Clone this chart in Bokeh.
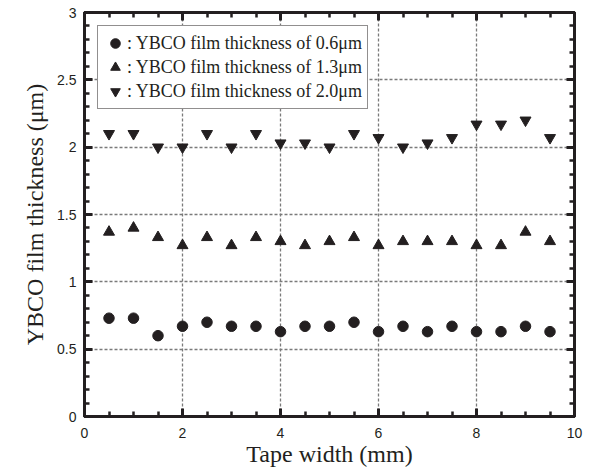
from bokeh.plotting import figure
from bokeh.models import (Range1d, LinearAxis, SingleIntervalTicker, Legend, LegendItem,
                          CustomJSTickFormatter)
from bokeh.embed import file_html
from bokeh.resources import INLINE

# Positions across the tape (mm)
tape_width = [0.5, 1.0, 1.5, 2.0, 2.5, 3.0, 3.5, 4.0, 4.5, 5.0,
              5.5, 6.0, 6.5, 7.0, 7.5, 8.0, 8.5, 9.0, 9.5]

# Measured YBCO film thickness (um) for the three nominal thicknesses
thick_06 = [0.73, 0.73, 0.60, 0.67, 0.70, 0.67, 0.67, 0.63, 0.67, 0.67,
            0.70, 0.63, 0.67, 0.63, 0.67, 0.63, 0.63, 0.67, 0.63]
thick_13 = [1.37, 1.40, 1.33, 1.27, 1.33, 1.27, 1.33, 1.30, 1.27, 1.30,
            1.33, 1.27, 1.30, 1.30, 1.30, 1.27, 1.27, 1.37, 1.30]
thick_20 = [2.10, 2.10, 2.00, 2.00, 2.10, 2.00, 2.10, 2.03, 2.03, 2.00,
            2.10, 2.07, 2.00, 2.03, 2.07, 2.17, 2.17, 2.20, 2.07]

legend_labels = [": YBCO film thickness of 0.6\u03bcm",
                 ": YBCO film thickness of 1.3\u03bcm",
                 ": YBCO film thickness of 2.0\u03bcm"]

INK = "#231f20"
SERIF = "Liberation Serif"
SANS = "Liberation Sans"

p = figure(width=589, height=472, output_backend="svg", toolbar_location=None,
           x_range=Range1d(0, 10), y_range=Range1d(0, 3),
           x_axis_location=None, y_axis_location=None,
           min_border_left=84, min_border_right=15,
           min_border_top=12, min_border_bottom=56)
p.background_fill_color = "white"
p.border_fill_color = "white"
p.outline_line_color = INK
p.outline_line_width = 3

num_fmt = CustomJSTickFormatter(code="return String(Number(tick.toFixed(2)));")
blank_fmt = CustomJSTickFormatter(code="return '';")


def make_axis(ticker, show_labels):
    ax = LinearAxis(ticker=ticker, formatter=num_fmt if show_labels else blank_fmt)
    ax.axis_line_color = INK
    ax.axis_line_width = 3
    ax.major_tick_line_color = INK
    ax.major_tick_line_width = 3
    ax.major_tick_in = 8
    ax.major_tick_out = 0
    ax.minor_tick_line_color = INK
    ax.minor_tick_line_width = 2.5
    ax.minor_tick_in = 5
    ax.minor_tick_out = 0
    if show_labels:
        ax.major_label_text_font = SANS
        ax.major_label_text_font_size = "14px"
        ax.major_label_text_color = INK
        ax.axis_label_text_font = SERIF
        ax.axis_label_text_font_size = "24px"
        ax.axis_label_text_font_style = "normal"
        ax.axis_label_text_color = INK
    else:
        ax.major_label_text_font_size = "1px"
        ax.major_label_standoff = 0
    return ax


x_ticker = SingleIntervalTicker(interval=2, num_minor_ticks=4)
y_ticker = SingleIntervalTicker(interval=0.5, num_minor_ticks=5)

xb = make_axis(x_ticker, True)
xb.axis_label = "Tape width (mm)"
xb.major_label_standoff = 11
xb.axis_label_standoff = 0
p.add_layout(xb, "below")

yl = make_axis(y_ticker, True)
yl.axis_label = "YBCO film thickness (\u03bcm)"
yl.major_label_standoff = 8
yl.axis_label_standoff = 6
p.add_layout(yl, "left")

p.add_layout(make_axis(x_ticker, False), "above")
p.add_layout(make_axis(y_ticker, False), "right")

# dotted grid at the major ticks
p.xgrid.ticker = x_ticker
p.ygrid.ticker = y_ticker
for g in (p.xgrid, p.ygrid):
    g.grid_line_color = "#7a7a7a"
    g.grid_line_dash = "3 2"
    g.grid_line_width = 1.3

r06 = p.scatter(tape_width, thick_06, marker="circle", size=10.5,
                fill_color=INK, line_color=INK)
r13 = p.scatter(tape_width, thick_13, marker="triangle", size=11,
                fill_color=INK, line_color=INK)
r20 = p.scatter(tape_width, thick_20, marker="inverted_triangle", size=11,
                fill_color=INK, line_color=INK)

legend = Legend(items=[LegendItem(label=legend_labels[0], renderers=[r06]),
                       LegendItem(label=legend_labels[1], renderers=[r13]),
                       LegendItem(label=legend_labels[2], renderers=[r20])],
                location="top_left", margin=13, padding=5, spacing=0,
                glyph_width=24, glyph_height=24, label_height=24,
                label_standoff=0)
legend.label_text_font = SERIF
legend.label_text_font_size = "18px"
legend.label_text_color = INK
legend.border_line_color = INK
legend.border_line_width = 1.5
legend.background_fill_color = "white"
legend.background_fill_alpha = 1.0
p.add_layout(legend)

open("out.html", "w").write(file_html(p, INLINE))
